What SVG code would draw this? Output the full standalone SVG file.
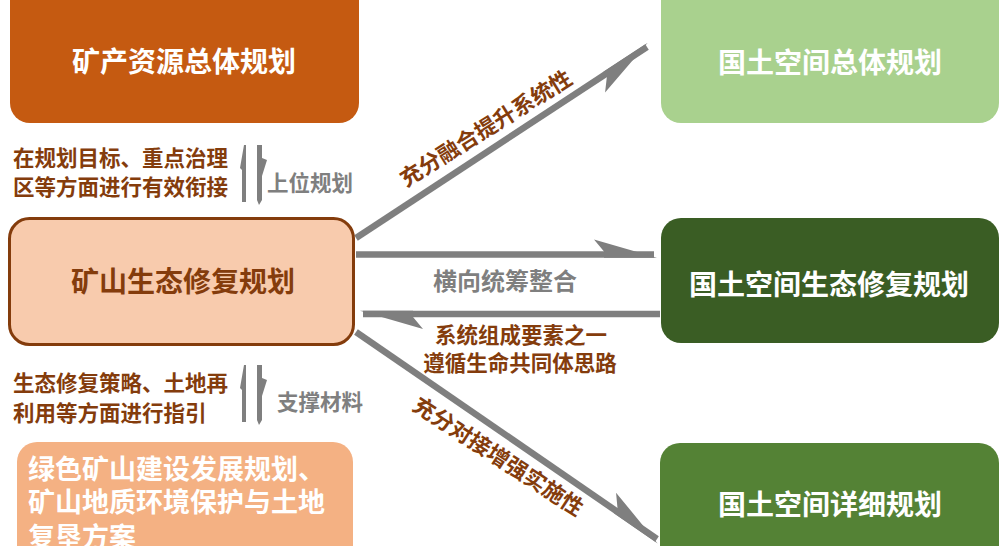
<svg xmlns="http://www.w3.org/2000/svg" width="1000" height="546" viewBox="0 0 1000 546">
<style>
text{font-family:"Noto Sans CJK SC","Noto Sans",sans-serif;font-weight:bold}
.t{font-size:28px;text-anchor:middle}
.w{fill:#ffffff}
.br{fill:#843C0C}
.gr{fill:#7F7F7F}
.s{font-size:21.5px}
.ln{stroke:#7F7F7F;stroke-width:6.5;fill:none}
.ha{fill:#7F7F7F}
</style>
<defs>
<marker id="hm" markerUnits="userSpaceOnUse" markerWidth="80" markerHeight="40" viewBox="-70 -20 80 40" refX="0" refY="0" orient="auto" overflow="visible">
<polygon points="3,3.25 -60,-15 -50,-3 -50,3.25" fill="#7F7F7F"/>
</marker>
<marker id="hp" markerUnits="userSpaceOnUse" markerWidth="80" markerHeight="40" viewBox="-70 -20 80 40" refX="0" refY="0" orient="auto" overflow="visible">
<polygon points="3,-3.25 -60,15 -50,3 -50,-3.25" fill="#7F7F7F"/>
</marker>
</defs>
<rect width="1000" height="546" fill="#ffffff"/>

<g id="connectors">
<line class="ln" x1="356" y1="238" x2="647" y2="47" marker-end="url(#hp)"/>
<line class="ln" x1="356" y1="254.5" x2="654" y2="254.5" marker-end="url(#hm)"/>
<line class="ln" x1="660" y1="314" x2="363" y2="314" marker-end="url(#hm)"/>
<line class="ln" x1="356" y1="332" x2="657" y2="539" marker-end="url(#hm)"/>
<text class="br" font-size="22" text-anchor="middle" transform="translate(490,135) rotate(-32)">充分融合提升系统性</text>
<text class="gr" font-size="24" text-anchor="middle" x="505" y="290">横向统筹整合</text>
<text class="br s" text-anchor="middle" x="521" y="343">系统组成要素之一</text>
<text class="br s" text-anchor="middle" x="520" y="371">遵循生命共同体思路</text>
<text class="br" font-size="22" text-anchor="middle" transform="translate(494,463) rotate(33)">充分对接增强实施性</text>
</g>

<g id="link-upper">
<polygon class="ha" points="244,145 246,145 246,168 246,202 242,202 242,170 240,168"/>
<polygon class="ha" points="257,145 262,145 262,158 267,160 262,176 262,200 259,205 257,200"/>
<text class="br s" x="13" y="166">在规划目标、重点治理</text>
<text class="br s" x="13" y="195">区等方面进行有效衔接</text>
<text class="gr s" x="267" y="191">上位规划</text>
</g>

<g id="link-lower">
<polygon class="ha" points="244,365 246,365 246,388 246,422 242,422 242,390 240,388"/>
<polygon class="ha" points="257,365 262,365 262,378 267,380 262,396 262,420 259,425 257,420"/>
<text class="br s" x="13" y="391">生态修复策略、土地再</text>
<text class="br s" x="13" y="421">利用等方面进行指引</text>
<text class="gr s" x="277" y="410">支撑材料</text>
</g>

<g id="node-mineral">
<rect x="10" y="-20" width="349" height="143" rx="20" fill="#C55A11"/>
<text class="t w" x="184" y="72">矿产资源总体规划</text>
</g>

<g id="node-mine-eco">
<rect x="9.5" y="218.5" width="344" height="126" rx="20" fill="#F8CBAD" stroke="#843C0C" stroke-width="3"/>
<text class="t br" x="183" y="292">矿山生态修复规划</text>
</g>

<g id="node-green">
<rect x="17" y="442" width="336" height="130" rx="20" fill="#F4B183"/>
<text class="w" font-size="27" x="28" y="479">绿色矿山建设发展规划、</text>
<text class="w" font-size="27" x="28" y="512">矿山地质环境保护与土地</text>
<text class="w" font-size="27" x="28" y="547">复垦方案</text>
</g>

<g id="node-land-master">
<rect x="661" y="-20" width="338" height="143" rx="20" fill="#A9D18E"/>
<text class="t w" x="830" y="73">国土空间总体规划</text>
</g>

<g id="node-land-eco">
<rect x="661" y="218" width="338" height="125" rx="20" fill="#3A5D24"/>
<text class="t w" x="829" y="295">国土空间生态修复规划</text>
</g>

<g id="node-land-detail">
<rect x="660" y="443" width="339" height="130" rx="20" fill="#548235"/>
<text class="t w" x="830" y="515">国土空间详细规划</text>
</g>
</svg>
